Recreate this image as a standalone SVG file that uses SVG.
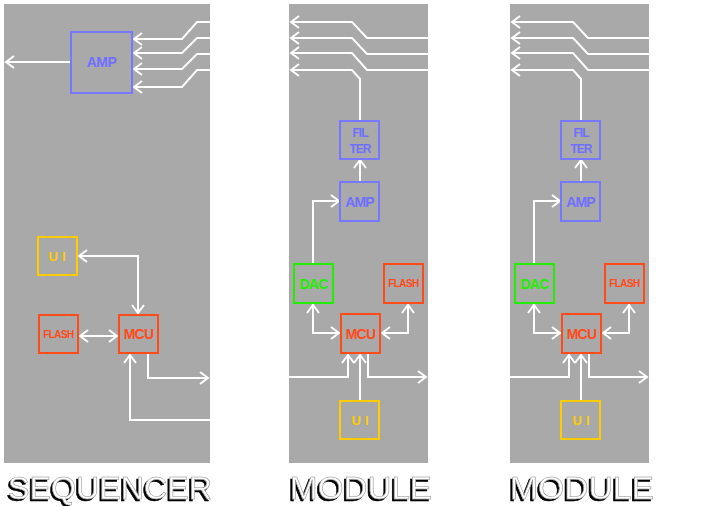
<svg xmlns="http://www.w3.org/2000/svg" width="708" height="506" viewBox="0 0 708 506">
<defs>
<style>
.panel{fill:#a9a9a9}
.box{fill:none;stroke-width:2}
.blue{stroke:#7777ff}
.gold{stroke:#ffcc00}
.red{stroke:#ff4a1a}
.green{stroke:#22ee00}
.lbl{font-family:"Liberation Sans",Arial,sans-serif;font-weight:bold;text-anchor:middle}
.tb{fill:#6f6fff}
.tg{fill:#ffcc00}
.tr{fill:#ff4a1a}
.tgr{fill:#22ee00}
.wire{fill:none;stroke:#ffffff;stroke-width:2}
.title{font-family:"Liberation Sans",Arial,sans-serif;font-size:31px;text-anchor:middle;fill:#ffffff;stroke:#8a8a8a;stroke-width:0.5;filter:url(#shadow)}
</style>
<filter id="shadow" x="-10%" y="-30%" width="120%" height="160%">
<feFlood flood-color="#000000" result="black"/>
<feComposite in="black" in2="SourceAlpha" operator="in" result="sh"/>
<feOffset in="sh" dx="-2" dy="2" result="off"/>
<feMerge><feMergeNode in="off"/><feMergeNode in="SourceGraphic"/></feMerge>
</filter>
<marker id="arr" viewBox="0 0 12 14" refX="10" refY="7" markerWidth="12" markerHeight="14" markerUnits="userSpaceOnUse" orient="auto-start-reverse">
<path d="M2,1 L10,7 L2,13" fill="none" stroke="#ffffff" stroke-width="2"/>
</marker>
</defs>
<rect width="708" height="506" fill="#ffffff"/>
<g id="panels">
<rect class="panel" x="4" y="4" width="206" height="459"/>
<rect class="panel" x="289" y="4" width="139" height="459"/>
<rect class="panel" x="510" y="4" width="139" height="459"/>
</g>

<!-- SEQUENCER panel -->
<g id="connectors-seq">
<line class="wire" x1="71" y1="62" x2="6" y2="62" marker-end="url(#arr)"/>
<polyline class="wire" points="210,22 197,22 182,39 134,39" marker-end="url(#arr)"/>
<polyline class="wire" points="210,38 197,38 182,53 134,53" marker-end="url(#arr)"/>
<polyline class="wire" points="210,54 197,54 182,69 134,69" marker-end="url(#arr)"/>
<polyline class="wire" points="210,70 197,70 182,87 134,87" marker-end="url(#arr)"/>
<polyline class="wire" points="79,256 138,256 138,313" marker-start="url(#arr)" marker-end="url(#arr)"/>
<line class="wire" x1="80" y1="336" x2="117" y2="336" marker-start="url(#arr)" marker-end="url(#arr)"/>
<polyline class="wire" points="148,354 148,378 208,378" marker-end="url(#arr)"/>
<polyline class="wire" points="210,420 130,420 130,355" marker-end="url(#arr)"/>
</g>
<g id="seq-amp"><rect class="box blue" x="71" y="32" width="61" height="61"/><text class="lbl tb" x="101.5" y="67" font-size="14" letter-spacing="-0.5">AMP</text></g>
<g id="seq-ui"><rect class="box gold" x="38" y="237" width="39" height="38"/><text class="lbl tg" x="59" y="261" font-size="13" letter-spacing="4">UI</text></g>
<g id="seq-flash"><rect class="box red" x="39" y="315" width="39" height="38"/><text class="lbl tr" x="58.5" y="338" font-size="10" letter-spacing="-0.6">FLASH</text></g>
<g id="seq-mcu"><rect class="box red" x="119" y="315" width="39" height="38"/><text class="lbl tr" x="138.5" y="339" font-size="14" letter-spacing="-0.8">MCU</text></g>

<!-- MODULE panel 1 -->
<g id="module1" transform="translate(0,0)">
<g id="connectors-m1">
<polyline class="wire" points="428,38 367,38 352,22 291,22" marker-end="url(#arr)"/>
<polyline class="wire" points="428,54 367,54 352,38 291,38" marker-end="url(#arr)"/>
<polyline class="wire" points="428,70 367,70 352,53 291,53" marker-end="url(#arr)"/>
<polyline class="wire" points="360,121 360,79 352,70 291,70" marker-end="url(#arr)"/>
<line class="wire" x1="360" y1="182" x2="360" y2="160" marker-end="url(#arr)"/>
<polyline class="wire" points="313,264 313,201 339,201" marker-end="url(#arr)"/>
<polyline class="wire" points="313,305 313,333 339,333" marker-start="url(#arr)" marker-end="url(#arr)"/>
<polyline class="wire" points="408,305 408,333 382,333" marker-start="url(#arr)" marker-end="url(#arr)"/>
<polyline class="wire" points="289,377 348,377 348,355" marker-end="url(#arr)"/>
<line class="wire" x1="360" y1="400" x2="360" y2="355" marker-end="url(#arr)"/>
<polyline class="wire" points="368,354 368,377 426,377" marker-end="url(#arr)"/>
</g>
<g id="m1-filter"><rect class="box blue" x="340" y="121" width="39" height="38"/><text class="lbl tb" x="360" y="137" font-size="12" letter-spacing="-1">FIL</text><text class="lbl tb" x="360" y="153" font-size="12" letter-spacing="-1">TER</text></g>
<g id="m1-amp"><rect class="box blue" x="340" y="182" width="39" height="39"/><text class="lbl tb" x="359.5" y="206.5" font-size="14" letter-spacing="-0.8">AMP</text></g>
<g id="m1-dac"><rect class="box green" x="294" y="264" width="39" height="39"/><text class="lbl tgr" x="313.5" y="289" font-size="14" letter-spacing="-0.8">DAC</text></g>
<g id="m1-flash"><rect class="box red" x="384" y="264" width="39" height="39"/><text class="lbl tr" x="403.5" y="287" font-size="10" letter-spacing="-0.6">FLASH</text></g>
<g id="m1-mcu"><rect class="box red" x="341" y="314" width="39" height="39"/><text class="lbl tr" x="360.5" y="339" font-size="14" letter-spacing="-0.8">MCU</text></g>
<g id="m1-ui"><rect class="box gold" x="340" y="401" width="39" height="38"/><text class="lbl tg" x="362" y="425" font-size="13" letter-spacing="4">UI</text></g>
</g>

<!-- MODULE panel 2 -->
<g id="module2" transform="translate(221,0)">
<g id="connectors-m2">
<polyline class="wire" points="428,38 367,38 352,22 291,22" marker-end="url(#arr)"/>
<polyline class="wire" points="428,54 367,54 352,38 291,38" marker-end="url(#arr)"/>
<polyline class="wire" points="428,70 367,70 352,53 291,53" marker-end="url(#arr)"/>
<polyline class="wire" points="360,121 360,79 352,70 291,70" marker-end="url(#arr)"/>
<line class="wire" x1="360" y1="182" x2="360" y2="160" marker-end="url(#arr)"/>
<polyline class="wire" points="313,264 313,201 339,201" marker-end="url(#arr)"/>
<polyline class="wire" points="313,305 313,333 339,333" marker-start="url(#arr)" marker-end="url(#arr)"/>
<polyline class="wire" points="408,305 408,333 382,333" marker-start="url(#arr)" marker-end="url(#arr)"/>
<polyline class="wire" points="289,377 348,377 348,355" marker-end="url(#arr)"/>
<line class="wire" x1="360" y1="400" x2="360" y2="355" marker-end="url(#arr)"/>
<polyline class="wire" points="368,354 368,377 426,377" marker-end="url(#arr)"/>
</g>
<g id="m2-filter"><rect class="box blue" x="340" y="121" width="39" height="38"/><text class="lbl tb" x="360" y="137" font-size="12" letter-spacing="-1">FIL</text><text class="lbl tb" x="360" y="153" font-size="12" letter-spacing="-1">TER</text></g>
<g id="m2-amp"><rect class="box blue" x="340" y="182" width="39" height="39"/><text class="lbl tb" x="359.5" y="206.5" font-size="14" letter-spacing="-0.8">AMP</text></g>
<g id="m2-dac"><rect class="box green" x="294" y="264" width="39" height="39"/><text class="lbl tgr" x="313.5" y="289" font-size="14" letter-spacing="-0.8">DAC</text></g>
<g id="m2-flash"><rect class="box red" x="384" y="264" width="39" height="39"/><text class="lbl tr" x="403.5" y="287" font-size="10" letter-spacing="-0.6">FLASH</text></g>
<g id="m2-mcu"><rect class="box red" x="341" y="314" width="39" height="39"/><text class="lbl tr" x="360.5" y="339" font-size="14" letter-spacing="-0.8">MCU</text></g>
<g id="m2-ui"><rect class="box gold" x="340" y="401" width="39" height="38"/><text class="lbl tg" x="362" y="425" font-size="13" letter-spacing="4">UI</text></g>
</g>

<g id="titles">
<text class="title" x="110" y="499" textLength="204" lengthAdjust="spacingAndGlyphs">SEQUENCER</text>
<text class="title" x="361" y="499" textLength="142" lengthAdjust="spacingAndGlyphs">MODULE</text>
<text class="title" x="582" y="499" textLength="144" lengthAdjust="spacingAndGlyphs">MODULE</text>
</g>
</svg>
